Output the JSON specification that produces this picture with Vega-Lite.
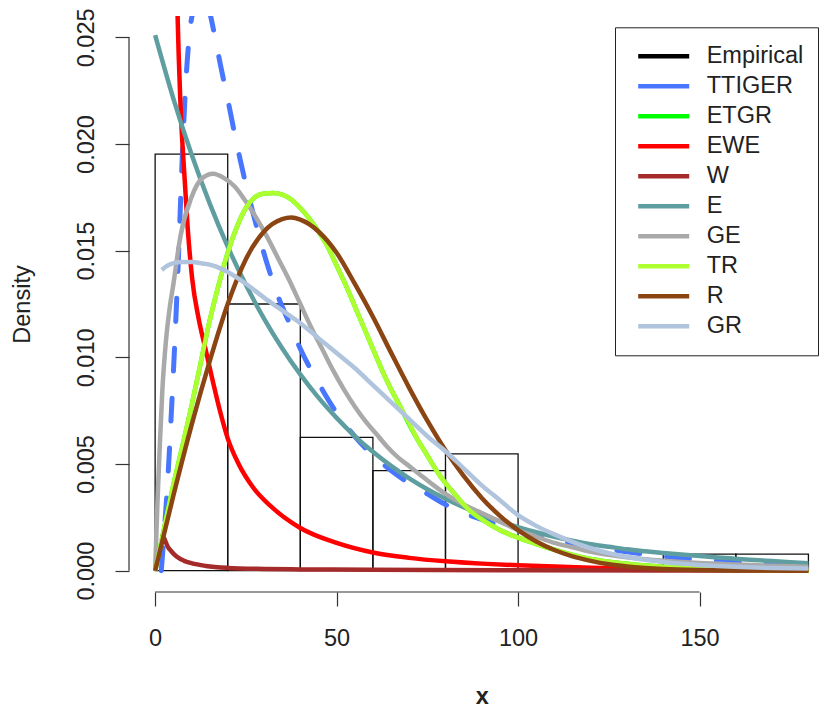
{
 "$schema": "https://vega.github.io/schema/vega-lite/v6.json",
 "width": 693,
 "height": 576,
 "autosize": {"type": "none"},
 "padding": {"left": 129, "top": 16, "right": 0, "bottom": 116},
 "background": "white",
 "config": {
  "view": {"stroke": null},
  "font": "Liberation Sans",
  "axis": {"grid": false, "domain": false, "tickSize": 14, "tickWidth": 1.2, "tickColor": "#333", "labelFont": "Liberation Sans", "labelFontSize": 23.5, "labelColor": "#222", "titleFont": "Liberation Sans", "titleFontSize": 23.5, "titleColor": "#222"}
 },
 "datasets": {
  "hist": [
   {"lo": 0, "hi": 20, "dens": 0.01953, "base": 0},
   {"lo": 20, "hi": 40, "dens": 0.0125, "base": 0},
   {"lo": 40, "hi": 60, "dens": 0.00625, "base": 0},
   {"lo": 60, "hi": 80, "dens": 0.00469, "base": 0},
   {"lo": 80, "hi": 100, "dens": 0.00547, "base": 0},
   {"lo": 100, "hi": 120, "dens": 0, "base": 0},
   {"lo": 120, "hi": 140, "dens": 0, "base": 0},
   {"lo": 140, "hi": 160, "dens": 0.00078, "base": 0},
   {"lo": 160, "hi": 180, "dens": 0.00078, "base": 0}
  ],
  "yline": [{"x": -7.2, "y": 0, "y2": 0.025}],
  "xline": [{"x": 0, "x2": 150, "y": -0.001}],
  "curves": [
   {"m":"TTIGER","x":1.7,"d":0},{"m":"TTIGER","x":2.5,"d":0.0018},{"m":"TTIGER","x":3.5,"d":0.0043},{"m":"TTIGER","x":4.5,"d":0.0075},{"m":"TTIGER","x":5.5,"d":0.011},{"m":"TTIGER","x":6.5,"d":0.015},{"m":"TTIGER","x":7.5,"d":0.0195},{"m":"TTIGER","x":8.5,"d":0.023},{"m":"TTIGER","x":9.5,"d":0.0252},{"m":"TTIGER","x":10.5,"d":0.0263},{"m":"TTIGER","x":12,"d":0.0271},{"m":"TTIGER","x":13.5,"d":0.027},{"m":"TTIGER","x":15,"d":0.0262},{"m":"TTIGER","x":16.5,"d":0.025},{"m":"TTIGER","x":18,"d":0.0237},{"m":"TTIGER","x":20,"d":0.0221},{"m":"TTIGER","x":22,"d":0.0204},{"m":"TTIGER","x":25,"d":0.0181},{"m":"TTIGER","x":28,"d":0.0161},{"m":"TTIGER","x":31,"d":0.0143},{"m":"TTIGER","x":34,"d":0.0128},{"m":"TTIGER","x":37,"d":0.0116},{"m":"TTIGER","x":40,"d":0.0104},{"m":"TTIGER","x":45,"d":0.0088},{"m":"TTIGER","x":50,"d":0.0074},{"m":"TTIGER","x":55,"d":0.0063},{"m":"TTIGER","x":60,"d":0.0054},{"m":"TTIGER","x":65,"d":0.0047},{"m":"TTIGER","x":70,"d":0.0041},{"m":"TTIGER","x":75,"d":0.0036},{"m":"TTIGER","x":80,"d":0.0031},{"m":"TTIGER","x":85,"d":0.0027},{"m":"TTIGER","x":90,"d":0.0024},{"m":"TTIGER","x":95,"d":0.0021},{"m":"TTIGER","x":100,"d":0.00186},{"m":"TTIGER","x":105,"d":0.00165},{"m":"TTIGER","x":110,"d":0.00145},{"m":"TTIGER","x":115,"d":0.00128},{"m":"TTIGER","x":120,"d":0.00113},{"m":"TTIGER","x":125,"d":0.001},{"m":"TTIGER","x":130,"d":0.00088},{"m":"TTIGER","x":135,"d":0.00077},{"m":"TTIGER","x":140,"d":0.00067},{"m":"TTIGER","x":145,"d":0.00059},{"m":"TTIGER","x":150,"d":0.00052},{"m":"TTIGER","x":155,"d":0.00046},{"m":"TTIGER","x":160,"d":0.0004},{"m":"TTIGER","x":165,"d":0.00035},{"m":"TTIGER","x":170,"d":0.00032},{"m":"TTIGER","x":175,"d":0.0003},{"m":"TTIGER","x":180,"d":0.00028},
   {"m":"ETGR","x":0,"d":0},{"m":"ETGR","x":2,"d":0.0016},{"m":"ETGR","x":5,"d":0.004},{"m":"ETGR","x":8,"d":0.0062},{"m":"ETGR","x":10,"d":0.0077},{"m":"ETGR","x":12.5,"d":0.0097},{"m":"ETGR","x":15,"d":0.0117},{"m":"ETGR","x":17.5,"d":0.0134},{"m":"ETGR","x":20,"d":0.0149},{"m":"ETGR","x":22.5,"d":0.0161},{"m":"ETGR","x":25,"d":0.017},{"m":"ETGR","x":27.5,"d":0.0175},{"m":"ETGR","x":30,"d":0.01768},{"m":"ETGR","x":32.5,"d":0.0177},{"m":"ETGR","x":35,"d":0.01763},{"m":"ETGR","x":37.5,"d":0.0174},{"m":"ETGR","x":40,"d":0.017},{"m":"ETGR","x":42.5,"d":0.0165},{"m":"ETGR","x":45,"d":0.0159},{"m":"ETGR","x":47.5,"d":0.0152},{"m":"ETGR","x":50,"d":0.0143},{"m":"ETGR","x":52.5,"d":0.0134},{"m":"ETGR","x":55,"d":0.0124},{"m":"ETGR","x":57.5,"d":0.0114},{"m":"ETGR","x":60,"d":0.0104},{"m":"ETGR","x":62.5,"d":0.0094},{"m":"ETGR","x":65,"d":0.0085},{"m":"ETGR","x":67.5,"d":0.0077},{"m":"ETGR","x":70,"d":0.00685},{"m":"ETGR","x":72.5,"d":0.00608},{"m":"ETGR","x":75,"d":0.0054},{"m":"ETGR","x":77.5,"d":0.0047},{"m":"ETGR","x":80,"d":0.0041},{"m":"ETGR","x":82.5,"d":0.0036},{"m":"ETGR","x":85,"d":0.0031},{"m":"ETGR","x":87.5,"d":0.0027},{"m":"ETGR","x":90,"d":0.0024},{"m":"ETGR","x":95,"d":0.0019},{"m":"ETGR","x":100,"d":0.00155},{"m":"ETGR","x":105,"d":0.00125},{"m":"ETGR","x":110,"d":0.00098},{"m":"ETGR","x":115,"d":0.00074},{"m":"ETGR","x":120,"d":0.00055},{"m":"ETGR","x":125,"d":0.00042},{"m":"ETGR","x":130,"d":0.00032},{"m":"ETGR","x":135,"d":0.00024},{"m":"ETGR","x":140,"d":0.00018},{"m":"ETGR","x":150,"d":0.0001},{"m":"ETGR","x":160,"d":0.00005},{"m":"ETGR","x":170,"d":0.00002},{"m":"ETGR","x":180,"d":0.00001},
   {"m":"EWE","x":4,"d":0.06},{"m":"EWE","x":5,"d":0.04},{"m":"EWE","x":6,"d":0.0275},{"m":"EWE","x":7,"d":0.0218},{"m":"EWE","x":8,"d":0.0187},{"m":"EWE","x":9,"d":0.016},{"m":"EWE","x":10.2,"d":0.0137},{"m":"EWE","x":12,"d":0.0118},{"m":"EWE","x":14,"d":0.0103},{"m":"EWE","x":16,"d":0.0088},{"m":"EWE","x":18,"d":0.0074},{"m":"EWE","x":20,"d":0.0062},{"m":"EWE","x":23,"d":0.005},{"m":"EWE","x":27,"d":0.0039},{"m":"EWE","x":32,"d":0.003},{"m":"EWE","x":40,"d":0.002},{"m":"EWE","x":50,"d":0.0013},{"m":"EWE","x":60,"d":0.00085},{"m":"EWE","x":70,"d":0.0006},{"m":"EWE","x":80,"d":0.00044},{"m":"EWE","x":90,"d":0.00033},{"m":"EWE","x":100,"d":0.00025},{"m":"EWE","x":110,"d":0.00019},{"m":"EWE","x":120,"d":0.00014},{"m":"EWE","x":130,"d":0.0001},{"m":"EWE","x":140,"d":0.00008},{"m":"EWE","x":150,"d":0.00006},{"m":"EWE","x":165,"d":0.00004},{"m":"EWE","x":180,"d":0.00003},
   {"m":"W","x":1.8,"d":0.0017},{"m":"W","x":2.5,"d":0.0015},{"m":"W","x":3.5,"d":0.00112},{"m":"W","x":4.5,"d":0.0009},{"m":"W","x":6,"d":0.00065},{"m":"W","x":8,"d":0.00046},{"m":"W","x":10,"d":0.00035},{"m":"W","x":14,"d":0.00022},{"m":"W","x":20,"d":0.00013},{"m":"W","x":30,"d":0.00008},{"m":"W","x":40,"d":0.00006},{"m":"W","x":60,"d":0.00004},{"m":"W","x":100,"d":0.00002},{"m":"W","x":140,"d":0.00001},{"m":"W","x":180,"d":0.00001},
   {"m":"E","x":0,"d":0.0251},{"m":"E","x":5,"d":0.02214},{"m":"E","x":10,"d":0.01953},{"m":"E","x":15,"d":0.01723},{"m":"E","x":20,"d":0.01519},{"m":"E","x":25,"d":0.0134},{"m":"E","x":30,"d":0.01182},{"m":"E","x":35,"d":0.01043},{"m":"E","x":40,"d":0.0092},{"m":"E","x":45,"d":0.00811},{"m":"E","x":50,"d":0.00716},{"m":"E","x":55,"d":0.00631},{"m":"E","x":60,"d":0.00557},{"m":"E","x":65,"d":0.00491},{"m":"E","x":70,"d":0.00433},{"m":"E","x":75,"d":0.00382},{"m":"E","x":80,"d":0.00337},{"m":"E","x":85,"d":0.00297},{"m":"E","x":90,"d":0.00262},{"m":"E","x":95,"d":0.00231},{"m":"E","x":100,"d":0.00204},{"m":"E","x":105,"d":0.0018},{"m":"E","x":110,"d":0.00159},{"m":"E","x":115,"d":0.0014},{"m":"E","x":120,"d":0.00124},{"m":"E","x":125,"d":0.00112},{"m":"E","x":130,"d":0.001},{"m":"E","x":135,"d":0.00091},{"m":"E","x":140,"d":0.00083},{"m":"E","x":145,"d":0.00076},{"m":"E","x":150,"d":0.00069},{"m":"E","x":155,"d":0.00062},{"m":"E","x":160,"d":0.00056},{"m":"E","x":165,"d":0.0005},{"m":"E","x":170,"d":0.00045},{"m":"E","x":175,"d":0.0004},{"m":"E","x":180,"d":0.00035},
   {"m":"GE","x":0,"d":0},{"m":"GE","x":0.6,"d":0.003},{"m":"GE","x":1.2,"d":0.0055},{"m":"GE","x":2,"d":0.0085},{"m":"GE","x":3,"d":0.0108},{"m":"GE","x":4,"d":0.0123},{"m":"GE","x":5,"d":0.0134},{"m":"GE","x":7,"d":0.0157},{"m":"GE","x":10,"d":0.0175},{"m":"GE","x":13,"d":0.0184},{"m":"GE","x":16,"d":0.0186},{"m":"GE","x":19,"d":0.0184},{"m":"GE","x":22,"d":0.018},{"m":"GE","x":25,"d":0.0173},{"m":"GE","x":28,"d":0.0165},{"m":"GE","x":31,"d":0.0156},{"m":"GE","x":34,"d":0.0146},{"m":"GE","x":37,"d":0.0136},{"m":"GE","x":40,"d":0.0125},{"m":"GE","x":43,"d":0.0114},{"m":"GE","x":46,"d":0.0104},{"m":"GE","x":49,"d":0.0094},{"m":"GE","x":52,"d":0.0085},{"m":"GE","x":55,"d":0.0077},{"m":"GE","x":58,"d":0.007},{"m":"GE","x":61,"d":0.0064},{"m":"GE","x":64,"d":0.0058},{"m":"GE","x":67,"d":0.0053},{"m":"GE","x":70,"d":0.0049},{"m":"GE","x":73,"d":0.0045},{"m":"GE","x":76,"d":0.0041},{"m":"GE","x":80,"d":0.0036},{"m":"GE","x":85,"d":0.0031},{"m":"GE","x":90,"d":0.0027},{"m":"GE","x":95,"d":0.0023},{"m":"GE","x":100,"d":0.0019},{"m":"GE","x":105,"d":0.0016},{"m":"GE","x":110,"d":0.0013},{"m":"GE","x":115,"d":0.0011},{"m":"GE","x":120,"d":0.00088},{"m":"GE","x":125,"d":0.00074},{"m":"GE","x":130,"d":0.00063},{"m":"GE","x":135,"d":0.00054},{"m":"GE","x":140,"d":0.00047},{"m":"GE","x":145,"d":0.00041},{"m":"GE","x":150,"d":0.00036},{"m":"GE","x":160,"d":0.00029},{"m":"GE","x":170,"d":0.00023},{"m":"GE","x":180,"d":0.00018},
   {"m":"TR","x":0,"d":0},{"m":"TR","x":2,"d":0.0016},{"m":"TR","x":5,"d":0.004},{"m":"TR","x":8,"d":0.0062},{"m":"TR","x":10,"d":0.0077},{"m":"TR","x":12.5,"d":0.0097},{"m":"TR","x":15,"d":0.0117},{"m":"TR","x":17.5,"d":0.0134},{"m":"TR","x":20,"d":0.0149},{"m":"TR","x":22.5,"d":0.0161},{"m":"TR","x":25,"d":0.017},{"m":"TR","x":27.5,"d":0.0175},{"m":"TR","x":30,"d":0.01768},{"m":"TR","x":32.5,"d":0.0177},{"m":"TR","x":35,"d":0.01763},{"m":"TR","x":37.5,"d":0.0174},{"m":"TR","x":40,"d":0.017},{"m":"TR","x":42.5,"d":0.0165},{"m":"TR","x":45,"d":0.0159},{"m":"TR","x":47.5,"d":0.0152},{"m":"TR","x":50,"d":0.0143},{"m":"TR","x":52.5,"d":0.0134},{"m":"TR","x":55,"d":0.0124},{"m":"TR","x":57.5,"d":0.0114},{"m":"TR","x":60,"d":0.0104},{"m":"TR","x":62.5,"d":0.0094},{"m":"TR","x":65,"d":0.0085},{"m":"TR","x":67.5,"d":0.0077},{"m":"TR","x":70,"d":0.0069},{"m":"TR","x":72.5,"d":0.0061},{"m":"TR","x":75,"d":0.0054},{"m":"TR","x":77.5,"d":0.0047},{"m":"TR","x":80,"d":0.0041},{"m":"TR","x":82.5,"d":0.0036},{"m":"TR","x":85,"d":0.0031},{"m":"TR","x":87.5,"d":0.0027},{"m":"TR","x":90,"d":0.0024},{"m":"TR","x":95,"d":0.0019},{"m":"TR","x":100,"d":0.00155},{"m":"TR","x":105,"d":0.00125},{"m":"TR","x":110,"d":0.00098},{"m":"TR","x":115,"d":0.00074},{"m":"TR","x":120,"d":0.00055},{"m":"TR","x":125,"d":0.00042},{"m":"TR","x":130,"d":0.00032},{"m":"TR","x":135,"d":0.00024},{"m":"TR","x":140,"d":0.00018},{"m":"TR","x":150,"d":0.0001},{"m":"TR","x":160,"d":0.00005},{"m":"TR","x":170,"d":0.00002},{"m":"TR","x":180,"d":0.00001},
   {"m":"R","x":0,"d":0},{"m":"R","x":5,"d":0.0035},{"m":"R","x":10,"d":0.0068},{"m":"R","x":15,"d":0.0098},{"m":"R","x":20,"d":0.0125},{"m":"R","x":25,"d":0.0146},{"m":"R","x":30,"d":0.0159},{"m":"R","x":35,"d":0.01648},{"m":"R","x":37.5,"d":0.01655},{"m":"R","x":40,"d":0.01645},{"m":"R","x":45,"d":0.0159},{"m":"R","x":50,"d":0.0149},{"m":"R","x":55,"d":0.01345},{"m":"R","x":60,"d":0.0119},{"m":"R","x":65,"d":0.01022},{"m":"R","x":70,"d":0.00857},{"m":"R","x":75,"d":0.00703},{"m":"R","x":80,"d":0.00564},{"m":"R","x":85,"d":0.00444},{"m":"R","x":90,"d":0.00341},{"m":"R","x":95,"d":0.00257},{"m":"R","x":100,"d":0.0019},{"m":"R","x":105,"d":0.00137},{"m":"R","x":110,"d":0.00097},{"m":"R","x":115,"d":0.00067},{"m":"R","x":120,"d":0.00046},{"m":"R","x":125,"d":0.0003},{"m":"R","x":130,"d":0.0002},{"m":"R","x":135,"d":0.00013},{"m":"R","x":140,"d":0.00008},{"m":"R","x":150,"d":0.00003},{"m":"R","x":160,"d":0.00001},{"m":"R","x":180,"d":0},
   {"m":"GR","x":1.8,"d":0.0141},{"m":"GR","x":4,"d":0.01435},{"m":"GR","x":7,"d":0.01447},{"m":"GR","x":10,"d":0.01447},{"m":"GR","x":13,"d":0.0144},{"m":"GR","x":16,"d":0.0143},{"m":"GR","x":20,"d":0.014},{"m":"GR","x":25,"d":0.01345},{"m":"GR","x":30,"d":0.0128},{"m":"GR","x":35,"d":0.0122},{"m":"GR","x":40,"d":0.0116},{"m":"GR","x":45,"d":0.0109},{"m":"GR","x":50,"d":0.0102},{"m":"GR","x":55,"d":0.0095},{"m":"GR","x":60,"d":0.0087},{"m":"GR","x":65,"d":0.0079},{"m":"GR","x":70,"d":0.0071},{"m":"GR","x":75,"d":0.0063},{"m":"GR","x":80,"d":0.0056},{"m":"GR","x":85,"d":0.0048},{"m":"GR","x":90,"d":0.004},{"m":"GR","x":95,"d":0.0033},{"m":"GR","x":100,"d":0.0026},{"m":"GR","x":105,"d":0.0021},{"m":"GR","x":110,"d":0.0017},{"m":"GR","x":115,"d":0.00135},{"m":"GR","x":120,"d":0.00105},{"m":"GR","x":125,"d":0.00082},{"m":"GR","x":130,"d":0.00064},{"m":"GR","x":135,"d":0.00051},{"m":"GR","x":140,"d":0.00041},{"m":"GR","x":145,"d":0.00033},{"m":"GR","x":150,"d":0.00027},{"m":"GR","x":155,"d":0.00022},{"m":"GR","x":160,"d":0.00018},{"m":"GR","x":170,"d":0.00013},{"m":"GR","x":180,"d":0.0001}
  ]
 },
 "layer": [
  {
   "data": {"name": "hist"},
   "mark": {"type": "rect", "filled": false, "stroke": "#111", "strokeWidth": 1.3},
   "encoding": {
    "x": {"field": "lo", "type": "quantitative", "scale": {"domain": [-7.2, 183.74], "nice": false, "zero": false},
          "axis": {"values": [0, 50, 100, 150], "title": "x", "titleFontWeight": "bold", "labelBaseline": "alphabetic", "labelPadding": 39, "titleX": 352.7, "titleY": 111, "titleBaseline": "alphabetic"}},
    "x2": {"field": "hi"},
    "y": {"field": "dens", "type": "quantitative", "scale": {"domain": [-0.001, 0.026], "nice": false, "zero": false},
          "axis": {"values": [0, 0.005, 0.01, 0.015, 0.02, 0.025], "format": ".3f", "title": "Density", "labelAngle": -90, "labelAlign": "center", "labelBaseline": "alphabetic", "labelPadding": 21.7, "titleX": -99.2, "titleY": 288, "titleAngle": -90, "titleAlign": "center", "titleBaseline": "alphabetic", "titleFontWeight": "normal"}},
    "y2": {"field": "base"}
   }
  },
  {
   "data": {"name": "curves"},
   "transform": [{"filter": "datum.m === 'TTIGER'"}],
   "mark": {"type": "line", "clip": true, "strokeWidth": 5, "strokeDash": [23, 27], "strokeCap": "round", "interpolate": "monotone"},
   "encoding": {
    "x": {"field": "x", "type": "quantitative"},
    "y": {"field": "d", "type": "quantitative"},
    "color": {"field": "m", "type": "nominal",
      "scale": {"domain": ["Empirical", "TTIGER", "ETGR", "EWE", "W", "E", "GE", "TR", "R", "GR"],
                "range": ["#000000", "#4876FF", "#00FF00", "#FF0000", "#A52A2A", "#5F9EA0", "#A9A9A9", "#ADFF2F", "#8B4513", "#B0C4DE"]},
      "legend": {"orient": "none", "legendX": 486, "legendY": 11.3, "title": null, "symbolType": "stroke", "symbolSize": 2601, "symbolStrokeWidth": 4.5, "labelFontSize": 23.5, "labelColor": "#222", "labelFont": "Liberation Sans", "clipHeight": 29.6, "rowPadding": 0, "padding": 14.2, "symbolOffset": 6.5, "labelOffset": 15, "strokeColor": "#222"}}
   }
  },
  {"data": {"name": "curves"}, "transform": [{"filter": "datum.m === 'ETGR'"}], "mark": {"type": "line", "clip": true, "strokeWidth": 4.5, "interpolate": "monotone"}, "encoding": {"x": {"field": "x", "type": "quantitative"}, "y": {"field": "d", "type": "quantitative"}, "color": {"field": "m", "type": "nominal"}}},
  {"data": {"name": "curves"}, "transform": [{"filter": "datum.m === 'EWE'"}], "mark": {"type": "line", "clip": true, "strokeWidth": 4.5, "interpolate": "monotone"}, "encoding": {"x": {"field": "x", "type": "quantitative"}, "y": {"field": "d", "type": "quantitative"}, "color": {"field": "m", "type": "nominal"}}},
  {"data": {"name": "curves"}, "transform": [{"filter": "datum.m === 'W'"}], "mark": {"type": "line", "clip": true, "strokeWidth": 4.5, "interpolate": "monotone"}, "encoding": {"x": {"field": "x", "type": "quantitative"}, "y": {"field": "d", "type": "quantitative"}, "color": {"field": "m", "type": "nominal"}}},
  {"data": {"name": "curves"}, "transform": [{"filter": "datum.m === 'E'"}], "mark": {"type": "line", "clip": true, "strokeWidth": 4.5, "interpolate": "monotone"}, "encoding": {"x": {"field": "x", "type": "quantitative"}, "y": {"field": "d", "type": "quantitative"}, "color": {"field": "m", "type": "nominal"}}},
  {"data": {"name": "curves"}, "transform": [{"filter": "datum.m === 'GE'"}], "mark": {"type": "line", "clip": true, "strokeWidth": 4.5, "interpolate": "monotone"}, "encoding": {"x": {"field": "x", "type": "quantitative"}, "y": {"field": "d", "type": "quantitative"}, "color": {"field": "m", "type": "nominal"}}},
  {"data": {"name": "curves"}, "transform": [{"filter": "datum.m === 'TR'"}], "mark": {"type": "line", "clip": true, "strokeWidth": 4.5, "interpolate": "monotone"}, "encoding": {"x": {"field": "x", "type": "quantitative"}, "y": {"field": "d", "type": "quantitative"}, "color": {"field": "m", "type": "nominal"}}},
  {"data": {"name": "curves"}, "transform": [{"filter": "datum.m === 'R'"}], "mark": {"type": "line", "clip": true, "strokeWidth": 4.5, "interpolate": "monotone"}, "encoding": {"x": {"field": "x", "type": "quantitative"}, "y": {"field": "d", "type": "quantitative"}, "color": {"field": "m", "type": "nominal"}}},
  {"data": {"name": "curves"}, "transform": [{"filter": "datum.m === 'GR'"}], "mark": {"type": "line", "clip": true, "strokeWidth": 4.5, "interpolate": "monotone"}, "encoding": {"x": {"field": "x", "type": "quantitative"}, "y": {"field": "d", "type": "quantitative"}, "color": {"field": "m", "type": "nominal"}}},
  {"data": {"name": "yline"}, "mark": {"type": "rule", "stroke": "#333", "strokeWidth": 1.2}, "encoding": {"x": {"field": "x", "type": "quantitative"}, "y": {"field": "y", "type": "quantitative"}, "y2": {"field": "y2"}}},
  {"data": {"name": "xline"}, "mark": {"type": "rule", "stroke": "#333", "strokeWidth": 1.2}, "encoding": {"x": {"field": "x", "type": "quantitative"}, "x2": {"field": "x2"}, "y": {"field": "y", "type": "quantitative"}}}
 ]
}
